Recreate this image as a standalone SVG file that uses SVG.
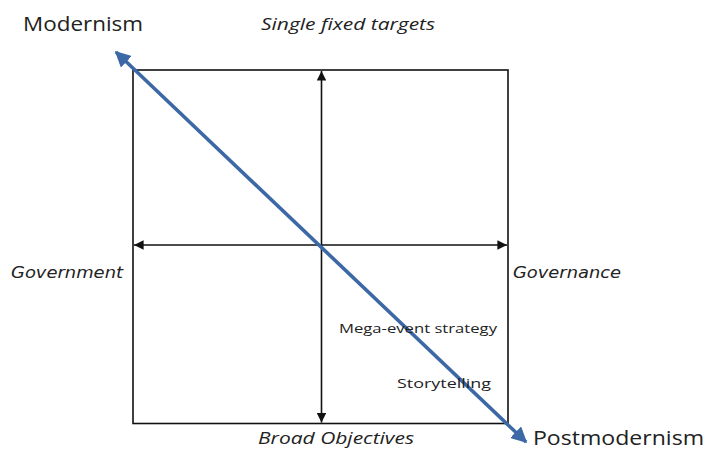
<svg xmlns="http://www.w3.org/2000/svg" width="705" height="452" viewBox="0 0 705 452">
<style>
.lbl{font-family:"Open Sans","Liberation Sans",sans-serif;fill:#222}
.big{font-size:20px}
.it{font-style:italic;font-size:16px}
.ax{font-family:"DejaVu Sans","Liberation Sans",sans-serif;font-style:italic;font-size:16px;fill:#222}
.sm{font-size:13px}
.blk{stroke:#111;stroke-width:1.6;fill:none}
</style>
<defs>
<marker id="ah" viewBox="0 0 10 10" refX="10" refY="5" markerWidth="6" markerHeight="6" orient="auto-start-reverse" markerUnits="strokeWidth">
<path d="M0,0 L10,5 L0,10 z" fill="#111"/>
</marker>
<marker id="bh" viewBox="0 0 10 10" refX="9" refY="5" markerWidth="4.4" markerHeight="4.4" orient="auto-start-reverse" markerUnits="strokeWidth">
<path d="M0,0 L10,5 L0,10 z" fill="#3d68a6"/>
</marker>
</defs>
<rect width="705" height="452" fill="#fff"/>
<g id="box"><rect x="133" y="70" width="375" height="353.5" class="blk"/></g>
<g id="connectors">
<line x1="321.5" y1="71" x2="321.5" y2="422.5" class="blk" marker-start="url(#ah)" marker-end="url(#ah)"/>
<line x1="134" y1="245" x2="507" y2="245" class="blk" marker-start="url(#ah)" marker-end="url(#ah)"/>
<line x1="116" y1="52" x2="526" y2="442" stroke="#3d68a6" stroke-width="3.6" marker-start="url(#bh)" marker-end="url(#bh)"/>
</g>
<g id="modernism"><text class="lbl big" x="23" y="31" textLength="120" lengthAdjust="spacingAndGlyphs">Modernism</text></g>
<g id="postmodernism"><text class="lbl big" x="533" y="445" textLength="171" lengthAdjust="spacingAndGlyphs">Postmodernism</text></g>
<g id="single"><text class="lbl it" x="261" y="30" textLength="174" lengthAdjust="spacingAndGlyphs">Single fixed targets</text></g>
<g id="broad"><text class="lbl it" x="258" y="444" textLength="156" lengthAdjust="spacingAndGlyphs">Broad Objectives</text></g>
<g id="government"><text class="ax" x="11" y="277.5" textLength="112" lengthAdjust="spacingAndGlyphs">Government</text></g>
<g id="governance"><text class="ax" x="513" y="278" textLength="108" lengthAdjust="spacingAndGlyphs">Governance</text></g>
<g id="mega"><text class="lbl sm" x="339" y="333" textLength="158" lengthAdjust="spacingAndGlyphs">Mega-event strategy</text></g>
<g id="story"><text class="lbl sm" x="397" y="388" textLength="94" lengthAdjust="spacingAndGlyphs">Storytelling</text></g>
</svg>
